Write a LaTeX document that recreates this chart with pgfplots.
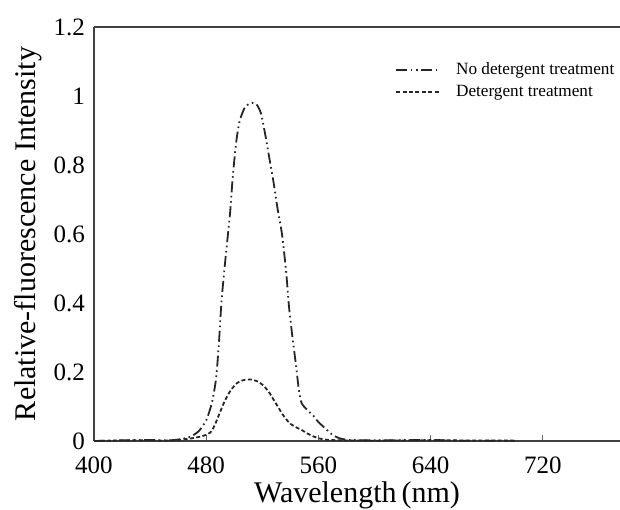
\documentclass[border=0pt]{standalone}
\usepackage{fontspec}
\setmainfont{Liberation Serif}
\usepackage{pgfplots}
\pgfplotsset{compat=1.18}

\begin{document}
\begin{tikzpicture}
\begin{axis}[
  scale only axis, width=263pt, height=207pt,
  xmin=400, xmax=775, ymin=0, ymax=1.2,
  axis x line*=bottom, axis y line*=left,
  axis line style={black!75, line width=0.6pt},
  xtick={400,480,560,640,720}, ytick={0,0.2,0.4,0.6,0.8,1,1.2},
  yticklabels={0,0.2,0.4,0.6,0.8,1,1.2},
  xtick align=inside, major tick length=3pt,
  ytick style={draw=none},
  xtick style={black!60, line width=0.4pt},
  /pgf/number format/assume math mode=true,
  tick label style={font=\fontsize{12.5}{14}\selectfont},
  xticklabel style={yshift=-4.5pt},
  yticklabel style={xshift=-1pt},
  xlabel={Wavelength\,(nm)}, ylabel={Relative-fluorescence Intensity},
  label style={font=\fontsize{15}{17}\selectfont},
  xlabel style={yshift=3pt}, ylabel style={yshift=-1pt},
  legend style={draw=none, fill=none, at={(0.572,0.935)}, anchor=north west,
    font=\fontsize{8.6}{10}\selectfont, row sep=0pt, inner xsep=0pt,
    nodes={inner xsep=7.5pt}},
  legend cell align=left,
  legend image code/.code={\draw[#1] (0pt,0pt) -- (22pt,0pt);},
  every axis plot/.append style={black!85, line width=0.9pt},
  clip=false,
]
\addplot[smooth, tension=0.4, dash pattern=on 5.5pt off 1.8pt on 0.8pt off 1.8pt on 0.8pt off 1.8pt] coordinates {
(400,0) (420,0.002) (440,0.003) (455,0.002) (465,0.008) (470,0.015) (475,0.03)
(480,0.06) (484,0.11) (487,0.18) (489,0.28) (491,0.41) (494,0.54) (497,0.66)
(499,0.77) (501.5,0.87) (504,0.93) (508,0.97) (513,0.98) (516,0.975) (519,0.95)
(522,0.89) (525,0.82) (528,0.75) (531,0.67) (534,0.60) (537,0.49) (539,0.39)
(541.5,0.30) (544,0.22) (546,0.15) (548,0.11) (552,0.09) (556,0.075) (560,0.055)
(565,0.036) (570,0.018) (575,0.008) (582,0.003) (600,0.002) (640,0.003) (660,0.001) (700,0.001)
};
\addplot[smooth, tension=0.4, dash pattern=on 2pt off 1.2pt] coordinates {
(400,0) (430,0.002) (450,0.001) (460,0.003) (470,0.008) (478,0.015) (483,0.025)
(486,0.045) (489,0.075) (492,0.105) (495,0.13) (498,0.15) (502,0.168) (507,0.177)
(512,0.178) (517,0.172) (521,0.16) (525,0.14) (528,0.12) (531,0.10) (534,0.08)
(537,0.063) (540,0.05) (544,0.04) (548,0.032) (552,0.022) (556,0.014) (560,0.008)
(565,0.004) (575,0.002) (600,0.001) (640,0.002) (700,0.001)
};
\legend{No detergent treatment, Detergent treatment}
\draw[black!75, line width=0.6pt] (rel axis cs:0,1) -- (rel axis cs:1,1);
\end{axis}
\pgfresetboundingbox
\path (current axis.south west) ++(-47pt,-34pt) rectangle ([yshift=13.5pt]current axis.north east);
\end{tikzpicture}
\end{document}
